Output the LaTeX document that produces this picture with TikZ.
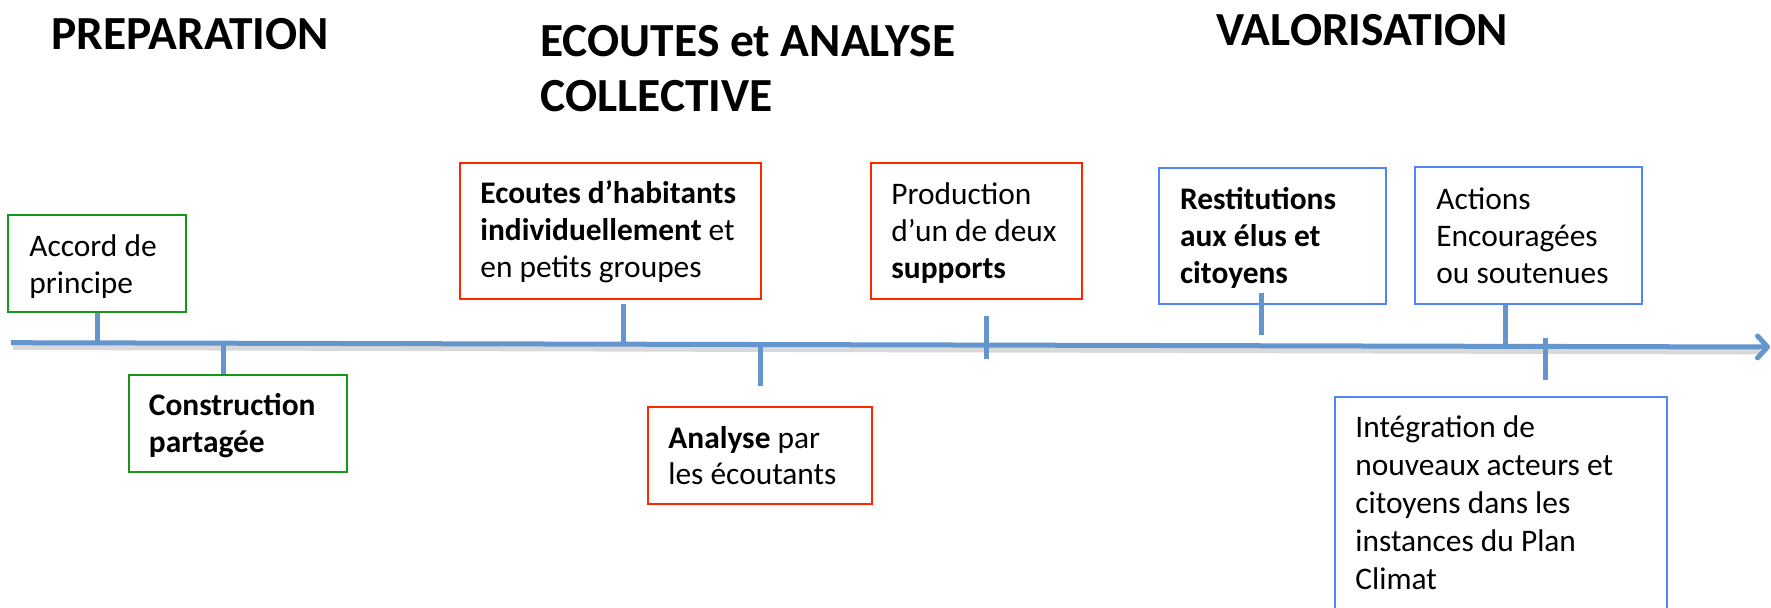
\documentclass[tikz,border=0pt]{standalone}
\usepackage{fontspec}
\setmainfont{Carlito}
\usetikzlibrary{arrows.meta,fit}
\definecolor{boxgreen}{RGB}{24,150,24}
\definecolor{boxred}{RGB}{255,38,0}
\definecolor{boxblue}{RGB}{80,135,245}
\definecolor{axisblue}{RGB}{100,150,205}
\tikzset{
  boxbase/.style={line width=1pt, inner sep=0pt, fill=white},
  gbox/.style={boxbase, draw=boxgreen},
  rbox/.style={boxbase, draw=boxred},
  bbox/.style={boxbase, draw=boxblue},
  txt/.style={anchor=base west, align=left, inner sep=0pt,
    font=\fontsize{15.7pt}{18.35pt}\selectfont},
  txtwide/.style={anchor=base west, align=left, inner sep=0pt,
    font=\fontsize{15.7pt}{19pt}\selectfont},
  titletxt/.style={anchor=base west, align=left, inner sep=0pt,
    font=\fontsize{23.75pt}{27.5pt}\selectfont\bfseries},
  tickline/.style={draw=axisblue, line width=2.5pt},
  shadowline/.style={draw=black, opacity=0.15, line width=3pt},
  axisline/.style={draw=axisblue, line width=2.5pt,
    -{Straight Barb[length=5pt,width=11pt,round]}}
}
\begin{document}
\begin{tikzpicture}[x=0.5pt,y=-0.5pt]
\useasboundingbox (0,0) rectangle (1771,608);
\clip (0,0) rectangle (1771,608);

% titles (anchor = baseline of the last line)
\node[titletxt] (tprep) at (51,50) {PREPARATION};
\node[titletxt] (tecout) at (540,112) {ECOUTES et ANALYSE\\COLLECTIVE};
\node[titletxt] (tvalo) at (1216,46) {VALORISATION};

% axis
\coordinate (axA) at (11,342.7);
\coordinate (axB) at (1770,347);
\draw[shadowline] (13,347) -- (1760,351.5);
\draw[axisline] (axA) -- (axB);

% tick marks
\coordinate (t1a) at (97,312);   \coordinate (t1b) at (97,343);
\coordinate (t2a) at (223,344);  \coordinate (t2b) at (223,375);
\coordinate (t3a) at (623,304);  \coordinate (t3b) at (623,346);
\coordinate (t4a) at (760,344);  \coordinate (t4b) at (760,386);
\coordinate (t5a) at (986,316);  \coordinate (t5b) at (986,359);
\coordinate (t6a) at (1261,293); \coordinate (t6b) at (1261,335);
\coordinate (t7a) at (1505,304); \coordinate (t7b) at (1505,346);
\coordinate (t8a) at (1545,338); \coordinate (t8b) at (1545,380);
\foreach \i in {1,...,8} {\draw[tickline] (t\i a) -- (t\i b);}

% boxes
\node[gbox, fit={(8.4,215) (185.6,312.3)}] (accord) {};
\node[gbox, fit={(129,375) (347,472)}] (constr) {};
\node[rbox, fit={(460,163.3) (761,299)}] (ecoutes) {};
\node[rbox, fit={(648,406.7) (872,504)}] (analyse) {};
\node[rbox, fit={(871,162.7) (1082,299)}] (prod) {};
\node[bbox, fit={(1159,168) (1386,304)}] (restit) {};
\node[bbox, fit={(1415,167) (1642,304)}] (actions) {};
\node[bbox, fit={(1335,397.3) (1667,640)}] (integr) {};
\draw[tickline] (t6a) -- (t6b);

% texts (anchor = baseline of the last line)
\node[txt] (accord-t) at (29,293.4) {Accord de\\principe};
\node[txt] (constr-t) at (148.5,452.7) {\textbf{Construction}\\\textbf{partagée}};
\node[txt] (ecoutes-t) at (480,277.4) {\textbf{Ecoutes d’habitants}\\\textbf{individuellement} et\\en petits groupes};
\node[txt] (analyse-t) at (668,485) {\textbf{Analyse} par\\les écoutants};
\node[txt] (prod-t) at (891,278.4) {Production\\d’un de deux\\\textbf{supports}};
\node[txt] (restit-t) at (1179.7,283.4) {\textbf{Restitutions}\\\textbf{aux élus et}\\\textbf{citoyens}};
\node[txt] (actions-t) at (1436,283.4) {Actions\\Encouragées\\ou soutenues};
\node[txtwide] (integr-t) at (1355,589) {Intégration de\\nouveaux acteurs et\\citoyens dans les\\instances du Plan\\Climat};
\end{tikzpicture}
\end{document}
